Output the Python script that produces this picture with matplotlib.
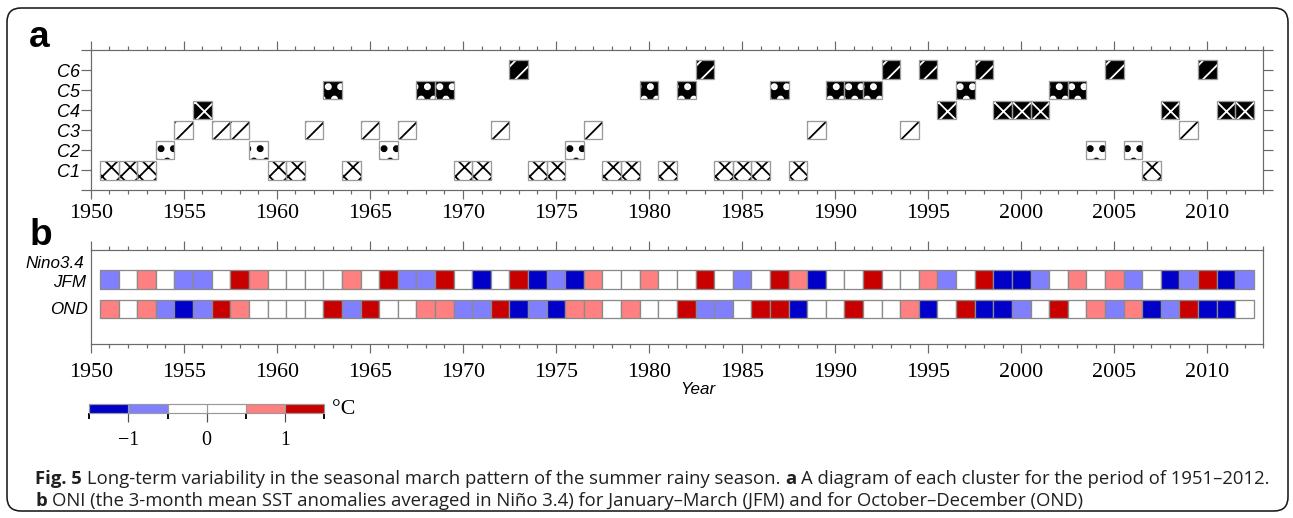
import numpy as np
import matplotlib
matplotlib.use("Agg")
import matplotlib.pyplot as plt
from matplotlib.colors import ListedColormap, BoundaryNorm
from matplotlib.patches import FancyBboxPatch
from matplotlib.transforms import IdentityTransform
from matplotlib.ticker import MultipleLocator, FixedLocator, FixedFormatter
import matplotlib.cm as cm

# ---------------- data ----------------
years = list(range(1951, 2013))
# cluster number (C1..C6) of each year, panel a
cluster = [1, 1, 1, 2, 3, 4, 3, 3, 2, 1,
           1, 3, 5, 1, 3, 2, 3, 5, 5, 1,
           1, 3, 6, 1, 1, 2, 3, 1, 1, 5,
           1, 5, 6, 1, 1, 1, 5, 1, 3, 5,
           5, 5, 6, 3, 6, 4, 5, 6, 4, 4,
           4, 5, 5, 2, 6, 2, 1, 4, 3, 6,
           4, 4]
cluster_labels = ["C1", "C2", "C3", "C4", "C5", "C6"]
# ONI class per year: -2 (<= -1), -1 (-1..-0.5), 0 (neutral), 1 (0.5..1), 2 (>= 1)
jfm_class = [-1, 0, 1, 0, -1, -1, 0, 2, 1, 0,
             0, 0, 0, 1, 0, 2, -1, -1, 2, 0,
             -2, 0, 2, -2, -1, -2, 1, 0, 0, 1,
             0, 0, 2, 0, -1, 0, 2, 1, -2, 0,
             0, 2, 0, 0, 1, -1, 0, 2, -2, -2,
             -1, 0, 1, 0, 1, -1, 0, -2, -1, 2,
             -2, -1]
ond_class = [1, 0, 1, -1, -2, -1, 2, 1, 0, 0,
             0, 0, 2, -1, 2, 0, 0, 1, 1, -1,
             -1, 2, -2, -1, -2, 1, 1, 0, 1, 0,
             0, 2, -1, -1, 0, 2, 2, -2, 0, 0,
             2, 0, 0, 1, -2, 0, 2, -2, -2, -1,
             0, 2, 0, 1, -1, 1, -2, -1, 2, -2,
             -2, 0]
row_labels = ["JFM", "OND"]
cbar_bounds = [-1.5, -1.0, -0.5, 0.0, 0.5, 1.0, 1.5]
cbar_ticks = [-1, 0, 1]
# representative anomaly (bin centre) of each class, in degC
class_value = {-2: -1.25, -1: -0.75, 0: 0.0, 1: 0.75, 2: 1.25}

# ---------------- style ----------------
DPI = 223
W, H = 1293, 518


def pt(px):
    return px * 72.0 / DPI


def fx(x):
    return x / W


def fy(y):
    return 1.0 - y / H


SPINE = "#6a6a6a"
SERIF = "Liberation Serif"
SANS = "Liberation Sans"
plt.rcParams["hatch.linewidth"] = pt(1.5)

fig = plt.figure(figsize=(W / DPI + 0.002, H / DPI + 0.002), dpi=DPI)
fig.patch.set_facecolor("white")

# rounded frame
frame = FancyBboxPatch((7, H - 511), 1281, 503,
                       boxstyle="round,pad=0,rounding_size=14",
                       transform=IdentityTransform(), fill=False,
                       lw=pt(1.6), edgecolor="#1a1a1a")
fig.add_artist(frame)

# ---------------- panel a ----------------
axa = fig.add_axes([fx(90.7), (H - 190.7) / H, 1172 / W, 140.7 / H])
axa.set_xlim(1950, 2013)
axa.set_ylim(0, 7)

styles = {1: ("white", "black", "xxxx"),
          2: ("white", "black", "..."),
          3: ("white", "black", "////"),
          4: ("black", "white", "xxxx"),
          5: ("black", "white", "..."),
          6: ("black", "white", "////")}
cl = np.array(cluster)
yr = np.array(years)
ch = 0.92
for c in range(1, 7):
    sel = yr[cl == c]
    face, hc, hatch = styles[c]
    bars = axa.bar(sel, ch, bottom=c - ch / 2, width=1.0, color=face,
                   edgecolor=hc, hatch=hatch, linewidth=0, zorder=2)
    for b in bars:
        if hasattr(b, "set_hatch_linewidth"):
            b.set_hatch_linewidth(pt(4.4) if hatch.startswith(".") else pt(1.8))
    axa.bar(sel, ch, bottom=c - ch / 2, width=1.0, facecolor="none",
            edgecolor="#9a9a9a", linewidth=pt(1.3), zorder=3)

for ax in ["left", "right", "top", "bottom"]:
    axa.spines[ax].set_color(SPINE)
    axa.spines[ax].set_linewidth(pt(1.2))
axa.xaxis.set_major_locator(MultipleLocator(5))
axa.xaxis.set_minor_locator(MultipleLocator(1))
axa.tick_params(axis="x", which="both", top=True, bottom=True, direction="out",
                color=SPINE, width=pt(1.2), labelsize=pt(22), pad=pt(4),
                labelfontfamily=SERIF)
axa.tick_params(axis="x", which="major", length=pt(9))
axa.tick_params(axis="x", which="minor", length=pt(4))
axa.yaxis.set_major_locator(FixedLocator(range(0, 8)))
axa.yaxis.set_major_formatter(FixedFormatter([""] + cluster_labels + [""]))
axa.tick_params(axis="y", which="major", left=True, right=True, direction="out",
                length=pt(10), color=SPINE, width=pt(1.2), labelsize=pt(18),
                pad=pt(0.5), labelfontfamily=SANS)
for t in axa.get_yticklabels():
    t.set_fontstyle("italic")

# ---------------- panel b ----------------
axb = fig.add_axes([fx(90.7), (H - 344) / H, 1172 / W, 93.3 / H])
axb.set_xlim(1950, 2013)
axb.set_ylim(3.195, 0)
colors6 = ["#0000C8", "#8080FF", "#FFFFFF", "#FFFFFF", "#FF8080", "#C80000"]
cmap = ListedColormap(colors6)
norm = BoundaryNorm(cbar_bounds, cmap.N)
rh = 0.634
for row, cls in enumerate([jfm_class, ond_class], start=1):
    vals = np.array([class_value[c] for c in cls])
    axb.bar(years, rh, bottom=row - rh / 2, width=1.0, color=cmap(norm(vals)),
            edgecolor="#8a8a8a", linewidth=pt(1.3), zorder=2)
for ax in ["left", "right", "top", "bottom"]:
    axb.spines[ax].set_color(SPINE)
    axb.spines[ax].set_linewidth(pt(1.2))
axb.set_yticks([])
axb.xaxis.set_major_locator(MultipleLocator(5))
axb.xaxis.set_minor_locator(MultipleLocator(1))
axb.tick_params(axis="x", which="both", top=True, bottom=True, direction="out",
                color=SPINE, width=pt(1.2), labelsize=pt(22), pad=pt(10),
                labelfontfamily=SERIF)
axb.tick_params(axis="x", which="major", length=pt(9))
axb.tick_params(axis="x", which="minor", length=pt(4))

lab_kw = dict(family=SANS, style="italic", fontsize=pt(17), ha="right", va="center")
fig.text(fx(84), fy(263), "Nino3.4", **lab_kw)
fig.text(fx(86), fy(282), row_labels[0], **lab_kw)
fig.text(fx(88), fy(309), row_labels[1], **lab_kw)
fig.text(fx(698), fy(389), "Year", family=SANS, style="italic", fontsize=pt(17),
         ha="center", va="center")

# panel letters
fig.text(fx(29), fy(47), "a", family=SANS, weight="bold", fontsize=pt(37),
         ha="left", va="baseline")
fig.text(fx(30), fy(245), "b", family=SANS, weight="bold", fontsize=pt(37),
         ha="left", va="baseline")

# ---------------- colorbar ----------------
cax = fig.add_axes([fx(89.3), (H - 413.3) / H, 234.7 / W, 9.3 / H])
sm = cm.ScalarMappable(norm=norm, cmap=cmap)
cb = fig.colorbar(sm, cax=cax, orientation="horizontal", ticks=cbar_ticks,
                  drawedges=True)
cb.outline.set_edgecolor("#9a9a9a")
cb.outline.set_linewidth(pt(1.2))
cb.dividers.set_color("#9a9a9a")
cb.dividers.set_linewidth(pt(1.2))
cax.tick_params(length=pt(9), width=pt(1.2), color="#505050", direction="out",
                labelsize=pt(20), pad=pt(8), labelfontfamily=SERIF)
cax.set_xticklabels(["\u22121", "0", "1"])
fig.text(fx(344), fy(409), "\u00b0C", family=SERIF, fontsize=pt(22),
         ha="center", va="center")

# ---------------- caption ----------------
CAP = "Open Sans"
CAPC = "#231f20"
line1 = [("Fig. 5", "bold"),
         ("Long-term variability in the seasonal march pattern of the summer rainy season.", "normal"),
         ("a", "bold"),
         ("A diagram of each cluster for the period of 1951\u20132012.", "normal")]
line2 = [("b", "bold"),
         ("ONI (the 3-month mean SST anomalies averaged in Ni\u00f1o 3.4) for January\u2013March (JFM) and for October\u2013December (OND)", "normal")]

renderer = fig.canvas.get_renderer()


def width_of(s, size, weight):
    t = fig.text(0, 0, s, family=CAP, fontsize=size, weight=weight)
    w = t.get_window_extent(renderer=renderer).width
    t.remove()
    return w


def line_width(pieces, size):
    sp = width_of("a a", size, "normal") - width_of("aa", size, "normal")
    return sum(width_of(s, size, wt) for s, wt in pieces) + sp * (len(pieces) - 1), sp


s0 = pt(16)
w0, _ = line_width(line1, s0)
size = s0 * (1267 - 35) / w0


def place(pieces, x0, ybase):
    _, sp = line_width(pieces, size)
    x = x0
    for s, wt in pieces:
        fig.text(fx(x), fy(ybase), s, family=CAP, fontsize=size, weight=wt,
                 color=CAPC, ha="left", va="baseline")
        x += width_of(s, size, wt) + sp


place(line1, 35, 484)
place(line2, 35, 506)

fig.savefig("out.png", dpi=DPI, facecolor="white")
